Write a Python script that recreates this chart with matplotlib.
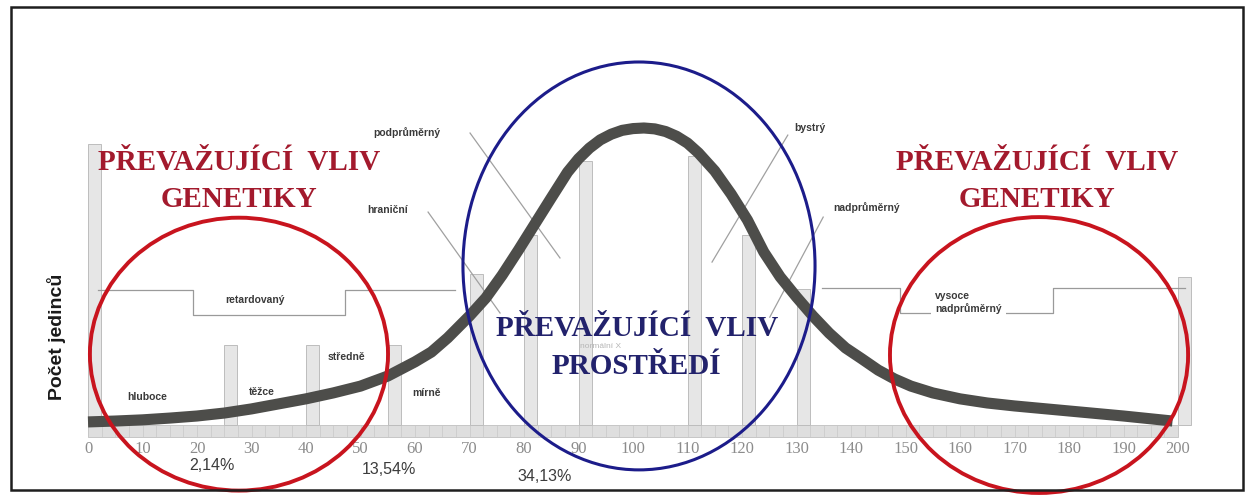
import numpy as np
import matplotlib
matplotlib.use("Agg")
import matplotlib.pyplot as plt
from matplotlib.patches import Ellipse, Rectangle

# ── data ─────────────────────────────────────────────────────────────────
iq = [0, 5, 10, 15, 20, 25, 30, 35, 40, 45, 50, 55, 60, 63, 66, 70, 73, 76,
      79, 82, 85, 88, 90, 92, 94, 96, 98, 100, 102, 104, 106, 108, 110, 112,
      115, 118, 121, 124, 127, 130, 133, 136, 139, 142, 145, 148, 151, 155,
      160, 165, 170, 180, 190, 199]
pocet = [0.7, 1.0, 1.4, 2.0, 2.7, 3.7, 5.1, 6.8, 8.5, 10.5, 12.8, 16.2, 21.0,
         24.3, 29.1, 36.5, 42.6, 50.3, 58.8, 67.6, 76.4, 85.1, 89.6, 93.2,
         96.0, 97.9, 99.2, 99.8, 100.0, 99.7, 98.8, 97.2, 94.9, 91.6, 85.5,
         77.7, 68.9, 58.1, 49.7, 42.9, 36.5, 30.7, 25.7, 22.0, 18.2, 15.2,
         12.8, 10.5, 8.5, 7.1, 6.1, 4.4, 2.7, 1.0]

# category boundary columns (IQ position, column height)
col_iq = [0, 25, 40, 55, 70, 80, 90, 110, 120, 130, 200]
col_top = [95, 27, 27, 27, 51, 64, 89, 91, 64, 46, 50]

xticks = list(range(0, 201, 10))
percent_labels = ["2,14%", "13,54%", "34,13%"]

RED = "#c8141e"
RED_TXT = "#a31a2d"
BLUE = "#1c1c8a"
BLUE_TXT = "#22226c"
CURVE = "#4d4d4a"

fig = plt.figure(figsize=(12.51, 4.96), dpi=100, facecolor="white")
ax = fig.add_axes([0, 0, 1, 1])
ax.set_xlim(-16.147, 213.394)
ax.set_ylim(-24.324, 143.243)
ax.set_facecolor("white")
for s in ("top", "left", "right"):
    ax.spines[s].set_visible(False)
ax.spines["bottom"].set_position(("data", -4.4))
ax.spines["bottom"].set_visible(False)
ax.set_yticks([])
ax.set_xticks(xticks)
ax.set_xticklabels([str(t) for t in xticks])
ax.tick_params(axis="x", length=0, pad=3, labelsize=12, labelcolor="#8c8c8c",
               labelfontfamily="Liberation Serif")

# scanned paper background + outer frame
fig.patches.append(Rectangle((37 / 1251, 31 / 496), 1201 / 1251, 417 / 496,
                             transform=fig.transFigure, facecolor="#efeff0",
                             edgecolor="none", zorder=-10))
fig.patches.append(Rectangle((11 / 1251, 6 / 496), 1232 / 1251, 483 / 496,
                             transform=fig.transFigure, facecolor="none",
                             edgecolor="#1e1e1e", lw=1.8, zorder=20))

# axis strip
ax.add_patch(Rectangle((0, -4.4), 200, 4.1, facecolor="#dedede",
                       edgecolor="#c0c0c0", lw=0.6, zorder=1))
ax.vlines(np.arange(0, 201, 2.5), -4.4, -0.3, color="#c8c8c8", lw=0.5, zorder=1)

# boundary columns
for x, top in zip(col_iq, col_top):
    ax.add_patch(Rectangle((x, -0.3), 2.4, top, facecolor="#e6e6e6",
                           edgecolor="#bdbdbd", lw=0.7, zorder=1))

# step brackets
ax.plot([1.8, 19.3, 19.3, 47.2, 47.2, 67.3], [45.3, 45.3, 36.8, 36.8, 45.3, 45.3],
        color="#9a9a9a", lw=0.9, zorder=2)
ax.plot([134.7, 149.0, 149.0, 177.1, 177.1, 201.3], [45.9, 45.9, 37.5, 37.5, 45.9, 45.9],
        color="#9a9a9a", lw=0.9, zorder=2)

# leader lines
for (x0, y0), (x1, y1) in [((70.1, 98.3), (86.6, 56.1)), ((62.4, 71.6), (75.6, 37.5)),
                           ((128.4, 97.6), (114.5, 54.7)), ((134.9, 69.9), (125.1, 36.1))]:
    ax.plot([x0, x1], [y0, y1], color="#a0a0a0", lw=0.9, zorder=2)

# small category labels
small = dict(fontsize=7.5, fontweight="bold", color="#3a3a3a", family="Liberation Sans",
             va="center", zorder=3)
box = dict(facecolor="white", edgecolor="none", pad=2)
ax.text(10.8, 9.1, "hluboce", ha="center", bbox=box, **small)
ax.text(31.9, 10.8, "těžce", ha="center", bbox=box, **small)
ax.text(47.5, 22.6, "středně", ha="center", bbox=box, **small)
ax.text(62.2, 10.5, "mírně", ha="center", bbox=box, **small)
ax.text(30.6, 41.9, "retardovaný", ha="center",
        bbox=dict(facecolor="white", edgecolor="none", pad=5), **small)
ax.text(54.9, 72.3, "hraniční", ha="center", **small)
ax.text(58.5, 98.6, "podprůměrný", ha="center", **small)
ax.text(132.5, 100.0, "bystrý", ha="center", **small)
ax.text(142.9, 73.0, "nadprůměrný", ha="center", **small)
ax.text(155.4, 41.0, "vysoce\nnadprůměrný", ha="left", linespacing=1.3,
        bbox=dict(facecolor="white", edgecolor="none", pad=3), **small)
ax.text(94.0, 26.2, "normální X", ha="center", fontsize=6, color="#b5b5b5",
        family="Liberation Sans", va="center", zorder=3)

# bell curve
ax.plot(iq, pocet, color=CURVE, lw=8, solid_capstyle="butt",
        solid_joinstyle="round", zorder=4)

# y label
ax.text(-5.7, 29.4, "Počet jedinců", rotation=90, ha="center", va="center",
        fontsize=14, fontweight="bold", color="#1a1a1a", family="Liberation Sans")

# percentages
pct_x = [22.8, 55.2, 83.7]
pct_y = [-13.9, -15.5, -17.6]
for t, x, y in zip(percent_labels, pct_x, pct_y):
    ax.text(x, y, t, ha="center", va="center", fontsize=11.5, color="#3c3c3c",
            family="Liberation Sans")

# big titles
title = dict(fontsize=21, fontweight="bold", family="Liberation Serif",
             ha="center", va="center", zorder=5)
for x in (27.7, 174.1):
    ax.text(x, 88.2, "PŘEVAŽUJÍCÍ  VLIV", color=RED_TXT, **title)
    ax.text(x, 76.0, "GENETIKY", color=RED_TXT, **title)
ax.text(100.7, 32.4, "PŘEVAŽUJÍCÍ  VLIV", color=BLUE_TXT, **title)
ax.text(100.7, 19.3, "PROSTŘEDÍ", color=BLUE_TXT, **title)

# ellipses
ax.add_patch(Ellipse((27.7, 23.6), 54.7, 92.2, fill=False, edgecolor=RED, lw=2.8, zorder=6))
ax.add_patch(Ellipse((174.5, 23.3), 54.7, 93.2, fill=False, edgecolor=RED, lw=2.8, zorder=6))
ax.add_patch(Ellipse((101.1, 53.4), 64.6, 137.8, fill=False, edgecolor=BLUE, lw=2.2, zorder=6))

fig.savefig("out.png", dpi=100, facecolor="white")
